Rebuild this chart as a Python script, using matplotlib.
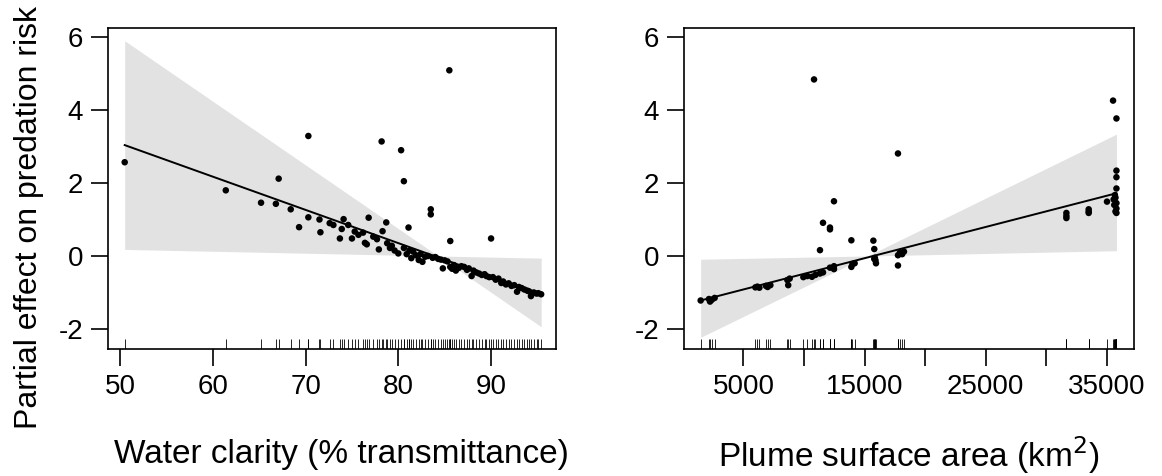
import matplotlib
matplotlib.use("Agg")
import matplotlib.pyplot as plt
import matplotlib.transforms as mtransforms

plt.rcParams['font.family'] = ['Liberation Sans', 'DejaVu Sans']

# ---------------- Left panel data: water clarity ----------------
clarity_x = [50.5, 61.4, 65.2, 66.8, 67.1, 68.4, 69.3, 70.3, 70.3, 71.5, 71.6, 72.6, 73.0,
             73.7, 73.9, 74.1, 74.6, 75.0, 75.3, 75.7, 76.2, 76.4, 76.6, 76.8, 77.3, 77.7,
             77.9, 78.2, 78.3, 78.7, 78.8, 79.1, 79.3, 79.6, 80.0, 80.3, 80.6, 80.6, 80.9,
             81.1, 81.2, 81.4, 81.6, 81.9, 82.2, 82.4, 82.6, 82.9, 83.2, 83.5, 83.5, 83.7,
             84.0, 84.3, 84.6, 84.8, 85.0, 85.3, 85.5, 85.6, 85.6, 85.8, 86.0, 86.2, 86.5,
             86.8, 87.1, 87.4, 87.6, 87.9, 88.1, 88.4, 88.7, 89.0, 89.3, 89.5, 89.8, 90.0,
             90.2, 90.5, 90.8, 91.1, 91.3, 91.6, 91.9, 92.2, 92.5, 92.8, 93.0, 93.3, 93.6,
             93.9, 94.1, 94.3, 94.6, 94.9, 95.1, 95.4]
clarity_y = [2.57, 1.80, 1.46, 1.43, 2.12, 1.28, 0.79, 1.06, 3.29, 1.00, 0.65, 0.90, 0.85,
             0.48, 0.74, 1.01, 0.85, 0.48, 0.67, 0.58, 0.64, 0.36, 0.32, 1.05, 0.53, 0.46,
             0.18, 3.14, 0.68, 0.92, 0.35, 0.22, 0.28, 0.15, 0.07, 2.90, 2.05, 0.22, 0.05,
             0.78, 0.15, -0.06, 0.12, 0.02, -0.11, 0.05, -0.16, -0.02, 0.00, 1.28, 1.14, -0.05,
             -0.03, -0.08, -0.10, -0.34, -0.12, -0.15, 5.09, 0.41, -0.30, -0.35, -0.25, -0.40, -0.33,
             -0.28, -0.30, -0.38, -0.34, -0.55, -0.40, -0.45, -0.48, -0.52, -0.50, -0.55, -0.58, 0.48,
             -0.58, -0.65, -0.62, -0.74, -0.70, -0.78, -0.75, -0.82, -0.80, -0.98, -0.85, -0.88, -0.92,
             -0.95, -0.97, -1.10, -1.00, -1.03, -1.02, -1.05]
clarity_fit_x = [50.5, 95.4]
clarity_fit_y = [3.04, -1.05]
clarity_band_x = [50.5, 84.3, 95.4]
clarity_band_hi = [5.90, 0.00, -0.06]
clarity_band_lo = [0.18, 0.00, -1.94]

# ---------------- Right panel data: plume surface area ----------------
plume_x = [1477, 2160, 2250, 2400, 2630, 5990, 6155, 6320, 6865, 7000, 7228, 8630, 8700,
           8820, 9950, 10280, 10660, 10830, 10940, 11320, 11320, 11570, 11570, 12145, 12145,
           12145, 12475, 12475, 12475, 13910, 13910, 14000, 14180, 15725, 15800, 15850, 15900,
           15940, 15800, 17755, 17755, 17755, 17920, 18250, 18100, 31650, 31650, 31650, 33490,
           33490, 33490, 35000, 35500, 35780, 35780, 35780, 35780, 35650, 35700, 35550, 35780,
           35600, 35780, 35700, 35780]
plume_y = [-1.22, -1.18, -1.25, -1.20, -1.15, -0.86, -0.84, -0.87, -0.82, -0.85, -0.80, -0.66, -0.80,
           -0.62, -0.58, -0.55, -0.57, 4.84, -0.52, 0.16, -0.48, 0.91, -0.45, 0.78, 0.73,
           -0.32, 1.50, -0.36, -0.28, 0.43, -0.30, -0.22, -0.20, 0.42, 0.19, -0.05, -0.12,
           -0.20, -0.08, 2.81, -0.26, 0.02, 0.10, 0.12, 0.05, 1.18, 1.10, 1.04, 1.28,
           1.22, 1.18, 1.49, 4.26, 3.77, 2.34, 2.16, 1.85, 1.67, 1.60, 1.55, 1.45,
           1.40, 1.30, 1.22, 1.18]
plume_fit_x = [1477, 35780]
plume_fit_y = [-1.22, 1.72]
plume_band_x = [1477, 15234, 35780]
plume_band_hi = [-0.09, 0.00, 3.34]
plume_band_lo = [-2.23, 0.00, 0.145]

y_ticks = [-2, 0, 2, 4, 6]
clarity_ticks = [50, 60, 70, 80, 90]
plume_ticks = [5000, 10000, 15000, 20000, 25000, 30000, 35000]
plume_tick_labels = ["5000", "", "15000", "", "25000", "", "35000"]

W, H = 1162, 476
fig = plt.figure(figsize=(W / 100, H / 100), dpi=100)

FS_TICK = 20
FS_LAB = 24
FS_YLAB = 23
band_col = "#e2e2e2"

def px_axes(l, r, t, b):
    return fig.add_axes([l / W, 1 - b / H, (r - l) / W, (b - t) / H])

axL = px_axes(108, 556, 28, 349)
axR = px_axes(684, 1134, 28, 349)

def style(ax):
    for s in ax.spines.values():
        s.set_linewidth(1.2)
    ax.tick_params(axis='both', which='major', length=12, width=1.2, labelsize=FS_TICK,
                   direction='out', pad=6)
    ax.set_yticks(y_ticks)
    ax.set_yticklabels([str(v) for v in y_ticks])
    ax.set_ylim(-2.55, 6.25)

def draw(ax, x, y, fx, fy, bx, bhi, blo):
    ax.fill_between(bx, blo, bhi, color=band_col, lw=0, zorder=1)
    ax.plot(fx, fy, color='black', lw=1.4, zorder=3)
    ax.scatter(x, y, s=22, color='black', edgecolors='none', zorder=4)
    trans = mtransforms.blended_transform_factory(ax.transData, ax.transAxes)
    ax.vlines(x, 0, 0.03, transform=trans, color='black', lw=0.6, zorder=2)

draw(axL, clarity_x, clarity_y, clarity_fit_x, clarity_fit_y,
     clarity_band_x, clarity_band_hi, clarity_band_lo)
style(axL)
axL.set_xlim(48.7, 97.0)
axL.set_xticks(clarity_ticks)
axL.set_xticklabels([str(v) for v in clarity_ticks])
axL.set_ylabel("Partial effect on predation risk", fontsize=FS_YLAB, va='center')
axL.yaxis.set_label_coords(-0.176, 0.41)
axL.set_xlabel("Water clarity (% transmittance)", fontsize=FS_LAB, va='center')
axL.xaxis.set_label_coords(0.52, -0.33)

draw(axR, plume_x, plume_y, plume_fit_x, plume_fit_y,
     plume_band_x, plume_band_hi, plume_band_lo)
style(axR)
axR.set_xlim(102, 37228)
axR.set_xticks(plume_ticks)
axR.set_xticklabels(plume_tick_labels)
axR.set_xlabel("Plume surface area (km$^2$)", fontsize=FS_LAB, va='center')
axR.xaxis.set_label_coords(0.5, -0.33)

fig.savefig("out.png", dpi=100)
